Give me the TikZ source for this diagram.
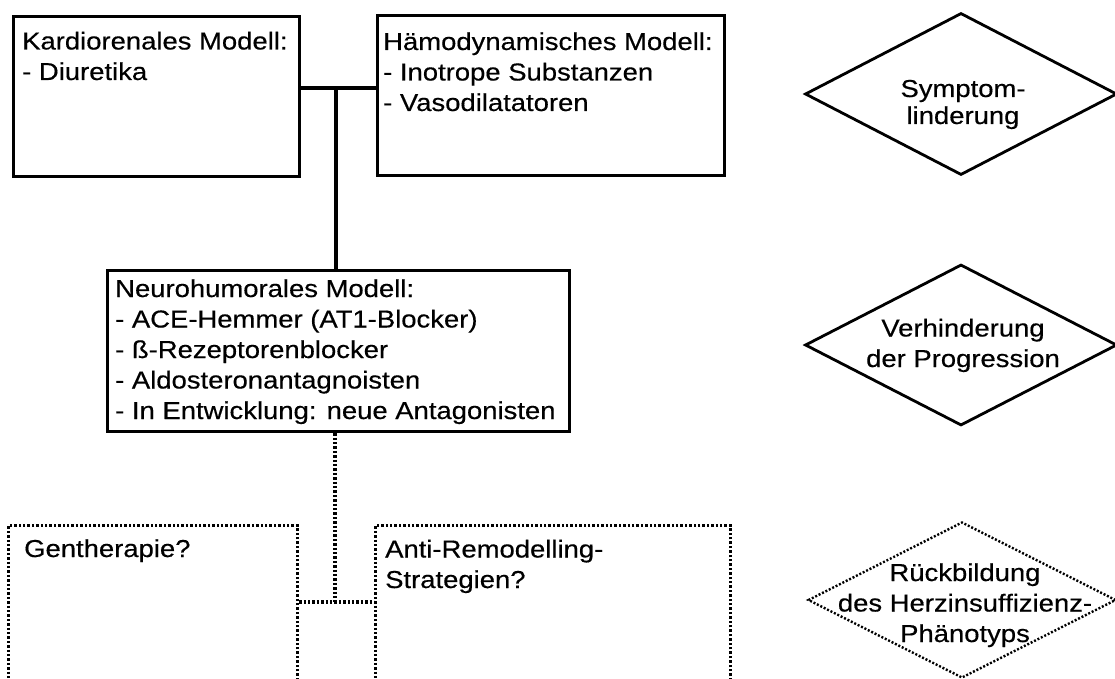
\documentclass[tikz,border=0pt]{standalone}
\usepackage{fontspec}
\setmainfont{Liberation Sans}[FakeStretch=1.12,FakeBold=0.4]
\usetikzlibrary{shapes.geometric,calc}
\begin{document}
\begin{tikzpicture}[x=1pt,y=-1pt,
  every node/.style={font=\fontsize{24.5}{30.5}\selectfont},
  solidbox/.style={draw, rectangle, line width=3.2pt, inner sep=0pt, anchor=north west},
  dotbox/.style={draw, rectangle, line width=3.2pt, dash pattern=on 2.4pt off 2pt,
                 inner sep=0pt, anchor=north west},
  % anchored at the baseline of the last line
  boxtext/.style={anchor=base west, align=left, inner sep=0pt},
  goaltext/.style={anchor=base, align=center, inner sep=0pt},
  goal/.style={draw, diamond, line width=2.8pt, inner sep=0pt,
               minimum width=312pt, minimum height=162pt},
  dotgoal/.style={goal, line width=2.4pt, dash pattern=on 2pt off 1.8pt},
  link/.style={line width=3.2pt},
  dotlink/.style={line width=3.2pt, dash pattern=on 2.4pt off 2pt}
]
\clip (0,0) rectangle (1115,679);
\fill[white] (0,0) rectangle (1115,679);

% therapy models
\node[solidbox, minimum width=286pt, minimum height=160pt] (kard) at (12,15) {};
\node[boxtext] (kardtxt) at (22,80) {Kardiorenales Modell:\\- Diuretika};

\node[solidbox, minimum width=347pt, minimum height=160pt] (haemo) at (376,14) {};
\node[boxtext] (haemotxt) at (383,111) {Hämodynamisches Modell:\\- Inotrope Substanzen\\- Vasodilatatoren};

\node[solidbox, minimum width=462pt, minimum height=161pt] (neuro) at (106,269) {};
\node[boxtext] (neurotxt) at (115,419) {Neurohumorales Modell:\\- ACE-Hemmer (AT1-Blocker)\\- ß-Rezeptorenblocker\\- Aldosteronantagnoisten\\- In Entwicklung: neue Antagonisten};

% future strategies (open towards the lower edge)
\node[dotbox, minimum width=289pt, minimum height=200pt] (gen) at (7,524) {};
\node[boxtext] (gentxt) at (24,557) {Gentherapie?};

\node[dotbox, minimum width=355pt, minimum height=200pt] (anti) at (374,524) {};
\node[boxtext] (antitxt) at (385,588) {Anti-Remodelling-\\Strategien?};

% connectors
\coordinate (j1) at (336,88);
\draw[link] (kard.east |- j1) -- (haemo.west |- j1);
\draw[link] (j1) -- (neuro.north -| j1);

\coordinate (j2) at (335,602);
\draw[dotlink] (neuro.south -| j2) -- (j2);
\draw[dotlink] (gen.east |- j2) -- (anti.west |- j2);

% therapy goals
\node[goal] (g1) at (961,94) {};
\node[goaltext, font=\fontsize{24.5}{27}\selectfont] (g1txt) at (963,124) {Symptom-\\linderung};

\node[goal, minimum height=161pt] (g2) at (961,345) {};
\node[goaltext] (g2txt) at (963,367) {Verhinderung\\der Progression};

\node[dotgoal, minimum width=308pt, minimum height=156pt] (g3) at (962,600) {};
\node[goaltext] (g3txt) at (965,642) {Rückbildung\\des Herzinsuffizienz-\\Phänotyps};
\end{tikzpicture}
\end{document}
